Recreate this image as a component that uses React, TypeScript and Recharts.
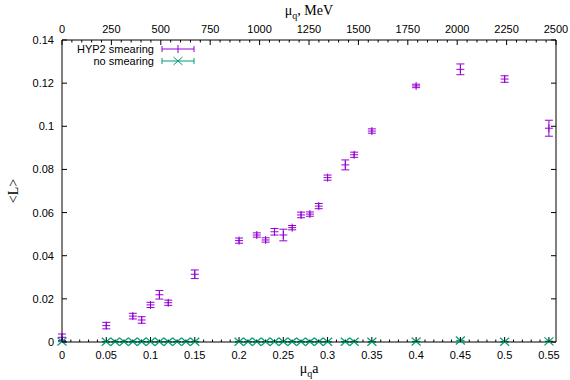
import React from 'react'
import { ScatterChart, Scatter, XAxis, YAxis, ErrorBar, Label } from 'recharts'

// HYP2 smearing
const hypX = [0, 0.05, 0.08, 0.09, 0.1, 0.11, 0.12, 0.15, 0.2, 0.22, 0.23, 0.24, 0.25, 0.26, 0.27, 0.28, 0.29, 0.3, 0.32, 0.33, 0.35, 0.4, 0.45, 0.5, 0.55]
const hypY = [0.0022, 0.0076, 0.012, 0.0102, 0.0172, 0.0219, 0.0182, 0.0314, 0.047, 0.0496, 0.0473, 0.0511, 0.0496, 0.053, 0.0589, 0.0593, 0.063, 0.0762, 0.0821, 0.0868, 0.0978, 0.1187, 0.1264, 0.1219, 0.0991]
const hypErr = [0.0015, 0.0015, 0.0013, 0.0015, 0.0012, 0.002, 0.0012, 0.002, 0.0012, 0.001, 0.001, 0.0015, 0.0027, 0.001, 0.0013, 0.001, 0.0012, 0.0012, 0.0023, 0.0012, 0.001, 0.0008, 0.0025, 0.0015, 0.0037]

// no smearing
const noX = [0, 0.05, 0.06, 0.07, 0.08, 0.09, 0.1, 0.11, 0.12, 0.13, 0.14, 0.15, 0.2, 0.21, 0.22, 0.23, 0.24, 0.25, 0.26, 0.27, 0.28, 0.29, 0.3, 0.32, 0.33, 0.35, 0.4, 0.45, 0.5, 0.55]
const noY = [0.0002, 0.0001, 0.0001, 0.0001, 0.0001, 0.0001, 0.0001, 0.0001, 0.0001, 0.0001, 0.0001, 0.0001, 0.0001, 0.0001, 0.0001, 0.0001, 0.0001, 0.0001, 0.0001, 0.0001, 0.0001, 0.0001, 0.0001, 0.0001, 0.0001, 0.0001, 0.0002, 0.0007, 0.0001, 0.0003]
const noErr = noY.map(() => 0.0001)

const aTicks = [0, 0.05, 0.1, 0.15, 0.2, 0.25, 0.3, 0.35, 0.4, 0.45, 0.5, 0.55]
const aLabels = ['0', '0.05', '0.1', '0.15', '0.2', '0.25', '0.3', '0.35', '0.4', '0.45', '0.5', '0.55']
const mevTicks = [0, 250, 500, 750, 1000, 1250, 1500, 1750, 2000, 2250, 2500]
const mevLabels = ['0', '250', '500', '750', '1000', '1250', '1500', '1750', '2000', '2250', '2500']
const yTicks = [0, 0.02, 0.04, 0.06, 0.08, 0.1, 0.12, 0.14]
const yLabels = ['0', '0.02', '0.04', '0.06', '0.08', '0.1', '0.12', '0.14']

const A_MAX = 0.558
const MEV_MAX = 2500

const PURPLE = '#9400d3'
const GREEN = '#009e73'
const SANS = "'Liberation Sans', Arial, sans-serif"
const SERIF = "'Liberation Serif', 'Times New Roman', serif"
const MAJOR = 5
const MINOR = 2.5

// 4 minor ticks between each pair of majors
function withMinors(majors: number[]) {
  const out: number[] = []
  for (let i = 0; i < majors.length; i++) {
    out.push(majors[i])
    if (i < majors.length - 1) {
      const step = (majors[i + 1] - majors[i]) / 5
      for (let k = 1; k < 5; k++) out.push(majors[i] + k * step)
    }
  }
  return out
}

const aAll = withMinors(aTicks)
const mevAll = withMinors(mevTicks)

const hypData = hypX.map((x, i) => ({ x, y: hypY[i], err: hypErr[i] }))
const noData = noX.map((x, i) => ({ x, y: noY[i], err: noErr[i] }))
// same points in MeV, only so the top / right axes get a domain (drawn invisible)
const mevData = hypX.map((x, i) => ({ x: (x * MEV_MAX) / A_MAX, y: hypY[i] }))

const findIdx = (arr: number[], v: number) => arr.findIndex(t => Math.abs(t - v) < 1e-9)

function BottomTick(props: any) {
  const { x, y, payload } = props
  const i = findIdx(aTicks, payload.value)
  return (
    <g>
      <line x1={x} y1={y} x2={x} y2={y - (i >= 0 ? MAJOR : MINOR)} stroke="#000" />
      {i >= 0 && (
        <text x={x} y={y + 16.5} textAnchor="middle" fontFamily={SANS} fontSize={11} fill="#000">{aLabels[i]}</text>
      )}
    </g>
  )
}

function TopTick(props: any) {
  const { x, y, payload } = props
  const i = findIdx(mevTicks, payload.value)
  return (
    <g>
      <line x1={x} y1={y} x2={x} y2={y + (i >= 0 ? MAJOR : MINOR)} stroke="#000" />
      {i >= 0 && (
        <text x={x} y={y - 7} textAnchor="middle" fontFamily={SANS} fontSize={11} fill="#000">{mevLabels[i]}</text>
      )}
    </g>
  )
}

function LeftTick(props: any) {
  const { x, y, payload } = props
  const i = findIdx(yTicks, payload.value)
  return (
    <g>
      <line x1={x} y1={y} x2={x + MAJOR} y2={y} stroke="#000" />
      <text x={x - 8} y={y + 4} textAnchor="end" fontFamily={SANS} fontSize={11} fill="#000">{yLabels[i]}</text>
    </g>
  )
}

function RightTick(props: any) {
  const { x, y } = props
  return <line x1={x} y1={y} x2={x - MAJOR} y2={y} stroke="#000" />
}

function PlusShape(props: any) {
  const { cx, cy } = props
  return (
    <g stroke={PURPLE} strokeWidth={1}>
      <line x1={cx - 4} y1={cy} x2={cx + 4} y2={cy} />
      <line x1={cx} y1={cy - 4} x2={cx} y2={cy + 4} />
    </g>
  )
}

function CrossShape(props: any) {
  const { cx, cy } = props
  return (
    <g stroke={GREEN} strokeWidth={1.2}>
      <line x1={cx - 4.5} y1={cy - 4} x2={cx + 4.5} y2={cy + 4} />
      <line x1={cx - 4.5} y1={cy + 4} x2={cx + 4.5} y2={cy - 4} />
    </g>
  )
}

const NoShape = () => <g />

function BottomTitle(props: any) {
  const vb = props.viewBox
  return (
    <text x={vb.x + vb.width / 2} y={vb.y + 31} textAnchor="middle" fontFamily={SERIF} fontSize={14} fill="#000">
      <tspan>μ</tspan>
      <tspan dy={4} fontSize={10}>q</tspan>
      <tspan dy={-4}>a</tspan>
    </text>
  )
}

function TopTitle(props: any) {
  const vb = props.viewBox
  return (
    <text x={vb.x + vb.width / 2} y={15} textAnchor="middle" fontFamily={SERIF} fontSize={14} fill="#000">
      <tspan>μ</tspan>
      <tspan dy={4} fontSize={10}>q</tspan>
      <tspan dy={-4}>, MeV</tspan>
    </text>
  )
}

function LeftTitle(props: any) {
  const vb = props.viewBox
  const cy = vb.y + vb.height / 2
  return (
    <text x={13} y={cy} transform={`rotate(-90 13 ${cy})`} textAnchor="middle" dominantBaseline="central" fontFamily={SERIF} fontSize={14} fill="#000">
      {'<L>'}
    </text>
  )
}

function LegendBox() {
  const rows = [
    { label: 'HYP2 smearing', color: PURPLE, y: 49, kind: 'plus' },
    { label: 'no smearing', color: GREEN, y: 61, kind: 'cross' },
  ]
  return (
    <svg width={570} height={380} style={{ position: 'absolute', left: 0, top: 0, pointerEvents: 'none' }}>
      {rows.map(r => (
        <g key={r.label}>
          <text x={154} y={r.y + 4} textAnchor="end" fontFamily={SANS} fontSize={11} fill="#000">{r.label}</text>
          <g stroke={r.color} strokeWidth={1}>
            <line x1={162} y1={r.y} x2={194} y2={r.y} />
            <line x1={162} y1={r.y - 3} x2={162} y2={r.y + 3} />
            <line x1={194} y1={r.y - 3} x2={194} y2={r.y + 3} />
            {r.kind === 'plus' ? (
              <line x1={178} y1={r.y - 4} x2={178} y2={r.y + 4} />
            ) : (
              <>
                <line x1={173.5} y1={r.y - 4} x2={182.5} y2={r.y + 4} />
                <line x1={173.5} y1={r.y + 4} x2={182.5} y2={r.y - 4} />
              </>
            )}
          </g>
        </g>
      ))}
    </svg>
  )
}

export default function App() {
  return (
    <div style={{ position: 'absolute', left: 0, top: 0, width: 570, height: 380, background: '#fff' }}>
      <ScatterChart width={570} height={380} margin={{ top: 0, right: 0, bottom: 0, left: 0 }}>
        <XAxis
          xAxisId="a" dataKey="x" type="number" orientation="bottom" domain={[0, A_MAX]}
          ticks={aAll} interval={0} tick={BottomTick} tickSize={0} tickMargin={0} tickLine={false}
          axisLine={{ stroke: '#000' }} height={38}
          label={<Label content={BottomTitle} />}
        />
        <XAxis
          xAxisId="top" dataKey="x" type="number" orientation="top" domain={[0, MEV_MAX]}
          ticks={mevAll} interval={0} tick={TopTick} tickSize={0} tickMargin={0} tickLine={false}
          axisLine={{ stroke: '#000' }} height={40}
          label={<Label content={TopTitle} />}
        />
        <YAxis
          yAxisId="l" dataKey="y" type="number" orientation="left" domain={[0, 0.14]}
          ticks={yTicks} interval={0} tick={LeftTick} tickSize={0} tickMargin={0} tickLine={false}
          axisLine={{ stroke: '#000' }} width={62}
          label={<Label content={LeftTitle} />}
        />
        <YAxis
          yAxisId="r" dataKey="y" type="number" orientation="right" domain={[0, 0.14]}
          ticks={yTicks} interval={0} tick={RightTick} tickSize={0} tickMargin={0} tickLine={false}
          axisLine={{ stroke: '#000' }} width={14}
        />
        <Scatter xAxisId="top" yAxisId="r" data={mevData} shape={NoShape} legendType="none" isAnimationActive={false} />
        <Scatter xAxisId="a" yAxisId="l" data={noData} shape={CrossShape} isAnimationActive={false}>
          <ErrorBar dataKey="err" direction="y" width={4} stroke={GREEN} strokeWidth={1} isAnimationActive={false} />
        </Scatter>
        <Scatter xAxisId="a" yAxisId="l" data={hypData} shape={PlusShape} isAnimationActive={false}>
          <ErrorBar dataKey="err" direction="y" width={4} stroke={PURPLE} strokeWidth={1} isAnimationActive={false} />
        </Scatter>
      </ScatterChart>
      <LegendBox />
    </div>
  )
}
